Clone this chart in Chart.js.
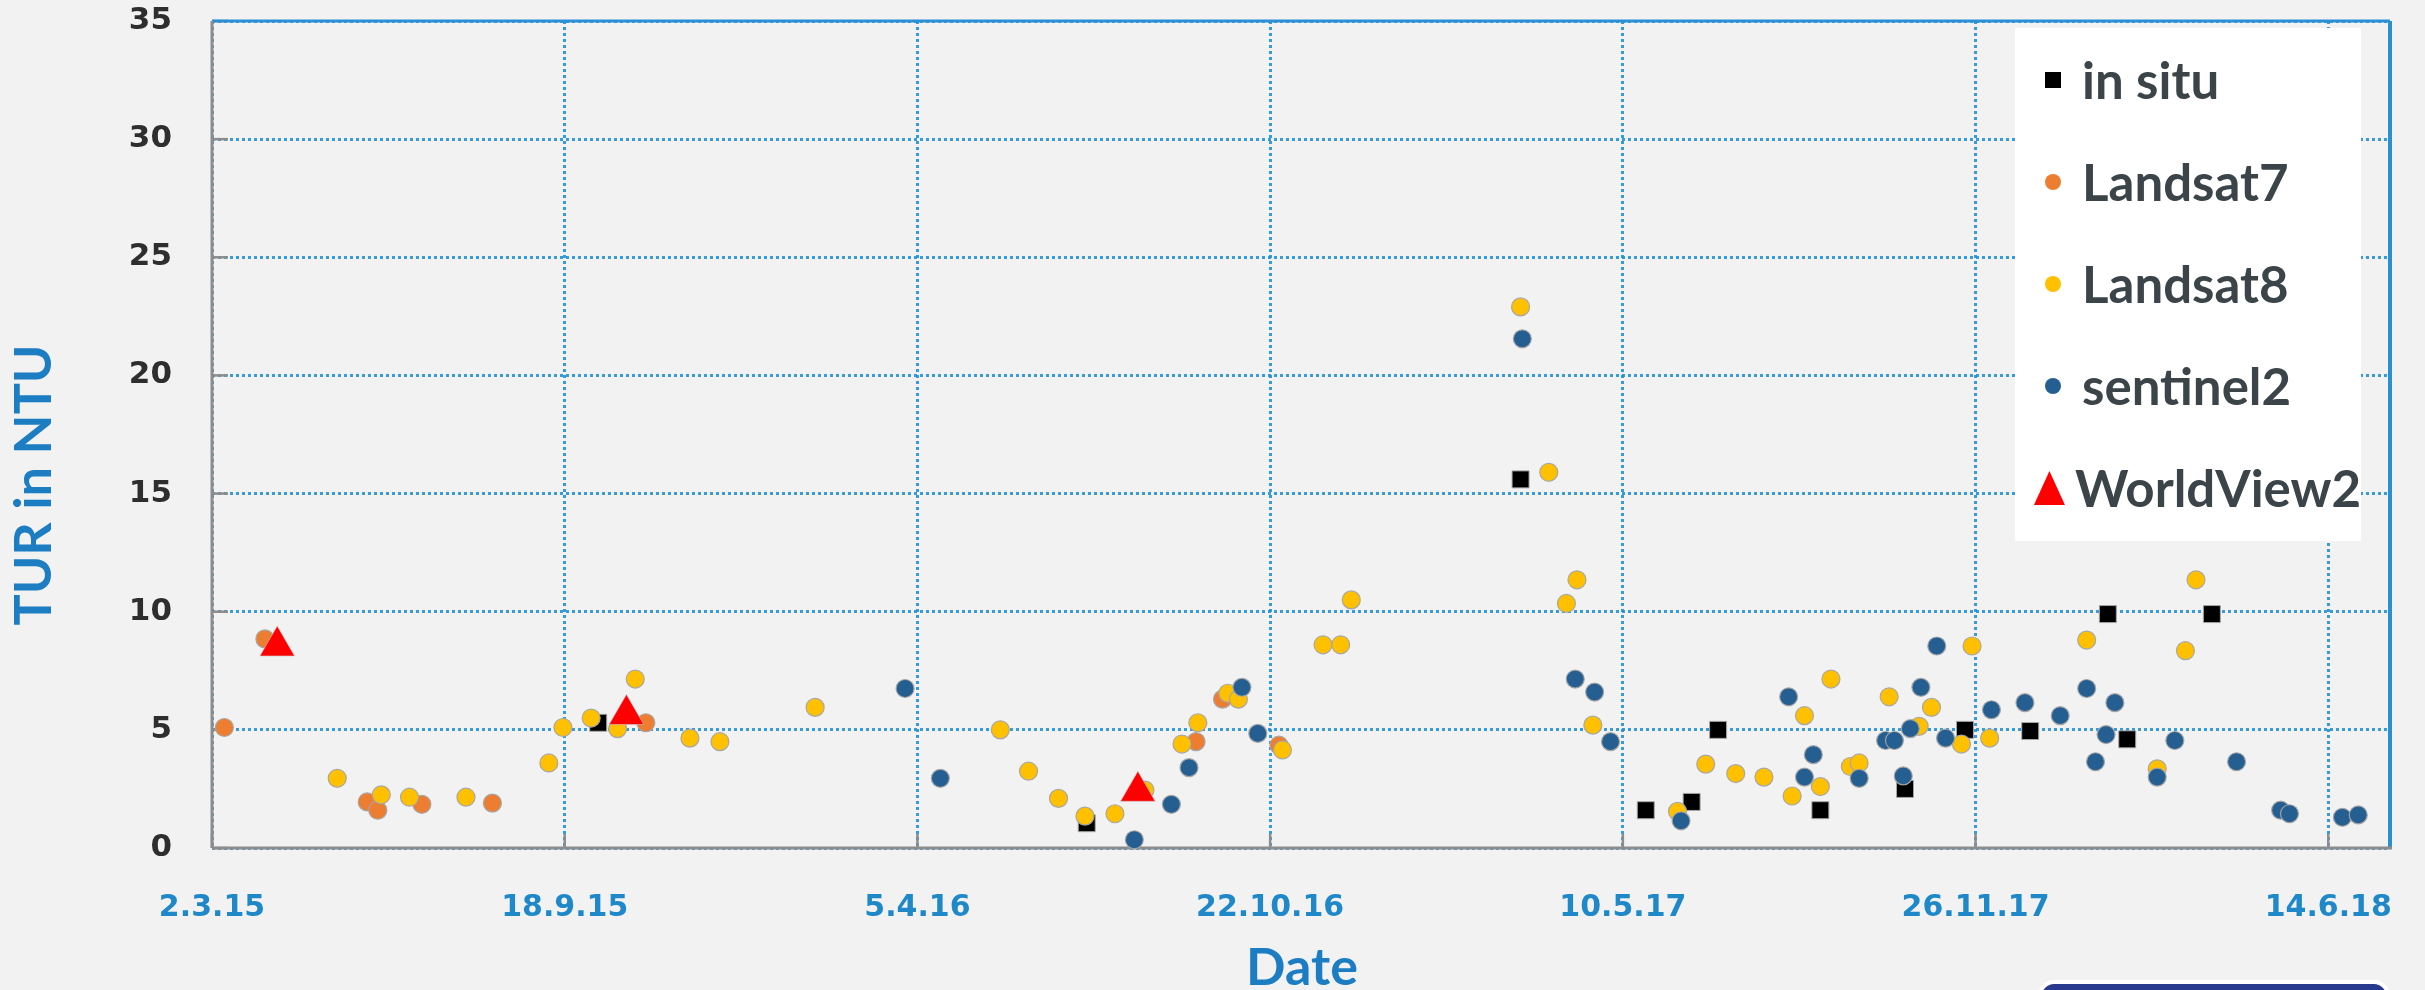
<!DOCTYPE html>
<html>
<head>
<meta charset="utf-8">
<title>TUR in NTU</title>
<script src="https://cdn.jsdelivr.net/npm/chart.js@4.4.1/dist/chart.umd.min.js"></script>
<style>
  html, body { margin: 0; padding: 0; background: #f2f2f2; overflow: hidden; }
  #wrap { position: relative; width: 2425px; height: 990px; overflow: hidden; background: #f2f2f2; }
  #chart { position: absolute; left: 0; top: 0; }
  #legend {
    position: absolute; left: 2015px; top: 28px; width: 346px; height: 513px;
    background: #ffffff; box-sizing: border-box; padding-top: 1px;
  }
  .item {
    height: 102px; display: flex; align-items: center;
    font: 700 51px Lato, "Open Sans", sans-serif; color: #3a4449; line-height: 1.2;
  }
  .sw { width: 58px; margin-left: 9px; display: flex; justify-content: center; align-items: center; }
  .mk-rect { width: 16px; height: 16px; }
  .mk-circle { width: 16px; height: 16px; border-radius: 50%; }
  .mk-triangle { width: 31px; height: 34px; clip-path: polygon(50% 0, 100% 100%, 0 100%); }
  #btn {
    position: absolute; left: 2038px; top: 980px; width: 352px; height: 40px;
    box-sizing: border-box; border: 4px solid #ffffff; border-radius: 16px; background: #283a8e;
  }
</style>
</head>
<body>
<div id="wrap">
  <canvas id="chart" width="2425" height="990"></canvas>
  <div id="legend"></div>
  <div id="btn"></div>
</div>
<script>
// ---- data ----------------------------------------------------------------
const tickLabels = ['2.3.15', '18.9.15', '5.4.16', '22.10.16', '10.5.17', '26.11.17', '14.6.18'];
const axisEndDate = '2018-07-19';
const yTickStep = 5;
const yMax = 35;

const insituDates = ['2015-10-07', '2016-07-10', '2017-03-13', '2017-05-23', '2017-06-18', '2017-07-03',
  '2017-08-30', '2017-10-17', '2017-11-20', '2017-12-27', '2018-02-09', '2018-02-20', '2018-04-09'];
const insituValues = [5.3, 1.05, 15.6, 1.6, 1.95, 5.0, 1.6, 2.5, 5.0, 4.95, 9.9, 4.6, 9.9];

const landsat7Dates = ['2015-03-09', '2015-04-01', '2015-05-29', '2015-06-04', '2015-06-29', '2015-08-08',
  '2015-11-03', '2016-09-10', '2016-09-25', '2016-10-27'];
const landsat7Values = [5.1, 8.85, 1.95, 1.6, 1.85, 1.9, 5.3, 4.5, 6.3, 4.35];

const landsat8Dates = ['2015-05-12', '2015-06-06', '2015-06-22', '2015-07-24', '2015-09-09', '2015-09-17',
  '2015-10-03', '2015-10-18', '2015-10-28', '2015-11-28', '2015-12-15', '2016-02-07', '2016-05-22',
  '2016-06-07', '2016-06-24', '2016-07-09', '2016-07-26', '2016-08-12', '2016-09-02', '2016-09-11',
  '2016-09-28', '2016-10-04', '2016-10-29', '2016-11-21', '2016-12-01', '2016-12-07', '2017-03-13',
  '2017-03-29', '2017-04-08', '2017-04-14', '2017-04-23', '2017-06-10', '2017-06-26', '2017-07-13',
  '2017-07-29', '2017-08-14', '2017-08-21', '2017-08-30', '2017-09-05', '2017-09-16', '2017-09-21',
  '2017-10-08', '2017-10-25', '2017-11-01', '2017-11-18', '2017-11-24', '2017-12-04', '2018-01-28',
  '2018-03-09', '2018-03-25', '2018-03-31'];
const landsat8Values = [2.95, 2.25, 2.15, 2.15, 3.6, 5.1, 5.5, 5.05, 7.15, 4.65, 4.5, 5.95, 5.0,
  3.25, 2.1, 1.35, 1.45, 2.45, 4.4, 5.3, 6.55, 6.3, 4.15, 8.6, 8.6, 10.5, 22.9,
  15.9, 10.35, 11.35, 5.2, 1.55, 3.55, 3.15, 3.0, 2.2, 5.6, 2.6, 7.15, 3.45, 3.6,
  6.4, 5.15, 5.95, 4.4, 8.55, 4.65, 8.8, 3.35, 8.35, 11.35];

const sentinel2Dates = ['2016-03-29', '2016-04-18', '2016-08-06', '2016-08-27', '2016-09-06', '2016-10-06',
  '2016-10-15', '2017-03-14', '2017-04-13', '2017-04-24', '2017-05-03', '2017-06-12', '2017-08-12',
  '2017-08-21', '2017-08-26', '2017-09-21', '2017-10-06', '2017-10-11', '2017-10-16', '2017-10-20',
  '2017-10-26', '2017-11-04', '2017-11-09', '2017-12-05', '2017-12-24', '2018-01-13', '2018-01-28',
  '2018-02-02', '2018-02-08', '2018-02-13', '2018-03-09', '2018-03-19', '2018-04-23', '2018-05-18',
  '2018-05-23', '2018-06-22', '2018-07-01'];
const sentinel2Values = [6.75, 2.95, 0.35, 1.85, 3.4, 6.8, 4.85, 21.55, 7.15, 6.6, 4.5, 1.15, 6.4,
  3.0, 3.95, 2.95, 4.55, 4.55, 3.05, 5.05, 6.8, 8.55, 4.65, 5.85, 6.15, 5.6, 6.75,
  3.65, 4.8, 6.15, 3.0, 4.55, 3.65, 1.6, 1.45, 1.3, 1.4];

const worldview2Dates = ['2015-04-08', '2015-10-23', '2016-08-08'];
const worldview2Values = [8.55, 5.65, 2.4];

// ---- helpers -------------------------------------------------------------
function isoToTime(iso) {
  const [y, m, d] = iso.split('-').map(Number);
  return Date.UTC(y, m - 1, d);
}
function labelToTime(lbl) {
  const [d, m, y] = lbl.split('.').map(Number);
  return Date.UTC(2000 + y, m - 1, d);
}
function timeToLabel(t) {
  const dt = new Date(t);
  return dt.getUTCDate() + '.' + (dt.getUTCMonth() + 1) + '.' + String(dt.getUTCFullYear()).slice(2);
}
function points(dates, values) {
  return dates.map((d, i) => ({ x: isoToTime(d), y: values[i] }));
}

const markerEdge = 'rgba(165,165,165,0.95)';
const gridBlue = 'rgba(35,145,212,0.9)';

const datasets = [
  { label: 'in situ', data: points(insituDates, insituValues), pointStyle: 'rect', pointRadius: 12,
    backgroundColor: '#000000', borderColor: markerEdge, borderWidth: 1, order: 5 },
  { label: 'Landsat7', data: points(landsat7Dates, landsat7Values), pointStyle: 'circle', pointRadius: 9,
    backgroundColor: '#ed7d31', borderColor: markerEdge, borderWidth: 1.2, order: 4 },
  { label: 'Landsat8', data: points(landsat8Dates, landsat8Values), pointStyle: 'circle', pointRadius: 9,
    backgroundColor: '#ffc000', borderColor: markerEdge, borderWidth: 1.2, order: 3 },
  { label: 'sentinel2', data: points(sentinel2Dates, sentinel2Values), pointStyle: 'circle', pointRadius: 9,
    backgroundColor: '#255e91', borderColor: markerEdge, borderWidth: 1.2, order: 2 },
  { label: 'WorldView2', data: points(worldview2Dates, worldview2Values), pointStyle: 'triangle', pointRadius: 20,
    backgroundColor: '#ff0000', borderColor: 'rgba(200,200,200,0.6)', borderWidth: 1, order: 1 }
];
datasets.forEach(ds => { ds.clip = false; ds.pointHoverRadius = ds.pointRadius; });

// plot frame: grey left/bottom axes, blue top/right edges, inward tick marks
const framePlugin = {
  id: 'frame',
  beforeDatasetsDraw(chart) {
    const { ctx, chartArea: { left, right, top, bottom }, scales: { x, y } } = chart;
    const line = (x1, y1, x2, y2) => { ctx.beginPath(); ctx.moveTo(x1, y1); ctx.lineTo(x2, y2); ctx.stroke(); };
    ctx.save();
    ctx.strokeStyle = '#8c8c8c';
    ctx.lineWidth = 2.5;
    x.ticks.forEach(t => { const px = x.getPixelForValue(t.value); line(px, bottom, px, bottom - 14); });
    y.ticks.forEach(t => { const py = y.getPixelForValue(t.value); line(left, py, left + 16, py); });
    ctx.strokeStyle = '#2b8fd4';
    ctx.lineWidth = 3;
    line(left, top, right, top);
    ctx.lineWidth = 4;
    line(right, top, right, bottom);
    ctx.strokeStyle = '#8c8c8c';
    ctx.lineWidth = 3;
    line(left, top, left, bottom);
    line(left, bottom, right + 2, bottom);
    ctx.restore();
  }
};

// axis titles
const titlePlugin = {
  id: 'axisTitles',
  afterDraw(chart) {
    const { ctx } = chart;
    ctx.save();
    ctx.fillStyle = '#1c7dc3';
    ctx.font = '700 52px Lato, "Open Sans", sans-serif';
    ctx.textAlign = 'center';
    ctx.textBaseline = 'alphabetic';
    ctx.fillText('Date', 1302, 985);
    ctx.translate(51, 485);
    ctx.rotate(-Math.PI / 2);
    ctx.fillText('TUR in NTU', 0, 0);
    ctx.restore();
  }
};

const chart = new Chart(document.getElementById('chart'), {
  type: 'scatter',
  data: { datasets },
  options: {
    responsive: false,
    animation: false,
    devicePixelRatio: 1,
    layout: { padding: { left: 0, right: 35, top: 14, bottom: 0 } },
    plugins: { legend: { display: false }, tooltip: { enabled: false } },
    scales: {
      x: {
        type: 'linear',
        min: labelToTime(tickLabels[0]),
        max: isoToTime(axisEndDate),
        afterBuildTicks(scale) { scale.ticks = tickLabels.map(l => ({ value: labelToTime(l) })); },
        afterFit(scale) { scale.height = 142; scale.paddingLeft = 0; scale.paddingRight = 0; },
        grid: { color: gridBlue, lineWidth: 3, drawTicks: false },
        border: { display: false, dash: [3, 3] },
        ticks: {
          autoSkip: false, maxRotation: 0, padding: 42, color: '#1e88c9',
          font: { family: 'DejaVu Sans', weight: 'bold', size: 30 },
          callback: v => timeToLabel(v)
        }
      },
      y: {
        min: 0,
        max: yMax,
        afterFit(scale) { scale.width = 212; scale.paddingTop = 0; scale.paddingBottom = 0; },
        grid: { color: gridBlue, lineWidth: 3, drawTicks: false },
        border: { display: false, dash: [3, 3] },
        ticks: {
          stepSize: yTickStep, padding: 40, color: '#2e2e2e',
          font: { family: 'DejaVu Sans', weight: 'bold', size: 31 }
        }
      }
    }
  },
  plugins: [framePlugin, titlePlugin]
});

// legend built from the chart's datasets
const legendEl = document.getElementById('legend');
chart.data.datasets.forEach(ds => {
  const row = document.createElement('div');
  row.className = 'item';
  const sw = document.createElement('span');
  sw.className = 'sw';
  const mk = document.createElement('span');
  mk.className = 'mk-' + ds.pointStyle;
  mk.style.background = ds.backgroundColor;
  sw.appendChild(mk);
  const txt = document.createElement('span');
  txt.textContent = ds.label;
  row.appendChild(sw);
  row.appendChild(txt);
  legendEl.appendChild(row);
});
</script>
</body>
</html>
